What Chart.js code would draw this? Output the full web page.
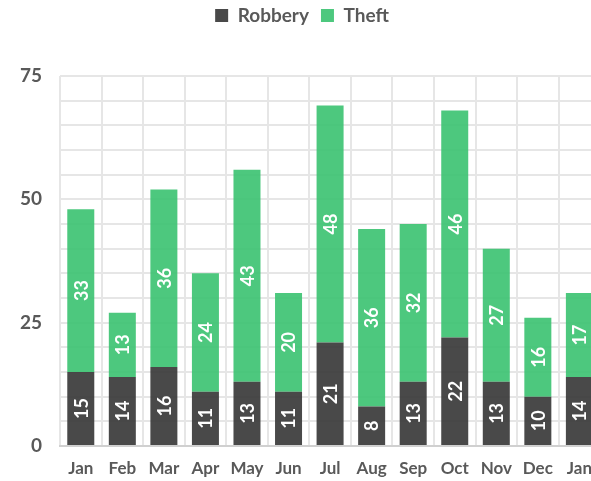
<!DOCTYPE html>
<html>
<head>
<meta charset="utf-8">
<script src="https://cdn.jsdelivr.net/npm/chart.js@4/dist/chart.umd.min.js"></script>
<style>
  html, body { margin: 0; padding: 0; background: #fff; overflow: hidden; }
  #wrap { width: 604px; height: 481px; }
</style>
</head>
<body>
<div id="wrap"><canvas id="myChart"></canvas></div>
<script>
// chart data
var months = ["Jan", "Feb", "Mar", "Apr", "May", "Jun", "Jul", "Aug", "Sep", "Oct", "Nov", "Dec", "Jan"];
var robbery = [15, 14, 16, 11, 13, 11, 21, 8, 13, 22, 13, 10, 14];
var theft = [33, 13, 36, 24, 43, 20, 48, 36, 32, 46, 27, 16, 17];
var shownTicks = [0, 25, 50, 75];

var textGray = "#595959";
var fontName = "Lato, 'Open Sans', sans-serif";

// white rotated numbers in the middle of each bar piece
var barLabels = {
  id: "barLabels",
  afterDatasetsDraw: function(chart) {
    var ctx = chart.ctx;
    ctx.save();
    ctx.fillStyle = "#ffffff";
    ctx.font = "bold 18px " + fontName;
    ctx.textAlign = "center";
    ctx.textBaseline = "middle";
    chart.data.datasets.forEach(function(ds, i) {
      var meta = chart.getDatasetMeta(i);
      meta.data.forEach(function(bar, j) {
        var mid = (bar.y + bar.base) / 2;
        ctx.save();
        ctx.translate(bar.x + 1, mid);
        ctx.rotate(-Math.PI / 2);
        ctx.fillText(ds.data[j], 0, 0);
        ctx.restore();
      });
    });
    ctx.restore();
  }
};

// leave a gap under the legend, like the original
var legendGap = {
  id: "legendGap",
  beforeInit: function(chart) {
    var fitLegend = chart.legend.fit;
    chart.legend.fit = function() {
      fitLegend.bind(chart.legend)();
      this.height = 82;
    };
  }
};

var ctx = document.getElementById("myChart").getContext("2d");
var myChart = new Chart(ctx, {
  type: "bar",
  data: {
    labels: months,
    datasets: [
      {
        label: "Robbery",
        data: robbery,
        backgroundColor: "rgba(58, 58, 58, 0.92)",
        barPercentage: 0.65,
        categoryPercentage: 1.0
      },
      {
        label: "Theft",
        data: theft,
        backgroundColor: "rgba(62, 195, 115, 0.92)",
        barPercentage: 0.65,
        categoryPercentage: 1.0
      }
    ]
  },
  options: {
    responsive: true,
    maintainAspectRatio: false,
    animation: false,
    layout: { padding: { left: 0, right: 0, top: -6, bottom: 0 } },
    plugins: {
      legend: {
        position: "top",
        labels: {
          boxWidth: 13,
          boxHeight: 13,
          padding: 12,
          color: textGray,
          font: { family: fontName, size: 19, weight: "bold" }
        }
      },
      tooltip: { enabled: false }
    },
    scales: {
      x: {
        stacked: true,
        grid: { color: "#e6e6e6", lineWidth: 2, drawTicks: false },
        border: { color: "#d0d0d0", width: 2 },
        afterFit: function(scale) { scale.height = 35; },
        ticks: {
          color: textGray,
          padding: 12,
          font: { family: fontName, size: 17, weight: "bold" }
        }
      },
      y: {
        stacked: true,
        min: 0,
        max: 75,
        grid: { color: "#e6e6e6", lineWidth: 2, drawTicks: false },
        border: { display: false },
        afterFit: function(scale) { scale.width = 60; },
        ticks: {
          stepSize: 5,
          autoSkip: false,
          padding: 18,
          color: textGray,
          font: { family: fontName, size: 19, weight: "bold" },
          callback: function(value) {
            return shownTicks.indexOf(value) >= 0 ? value : "";
          }
        }
      }
    }
  },
  plugins: [barLabels, legendGap]
});
</script>
</body>
</html>
